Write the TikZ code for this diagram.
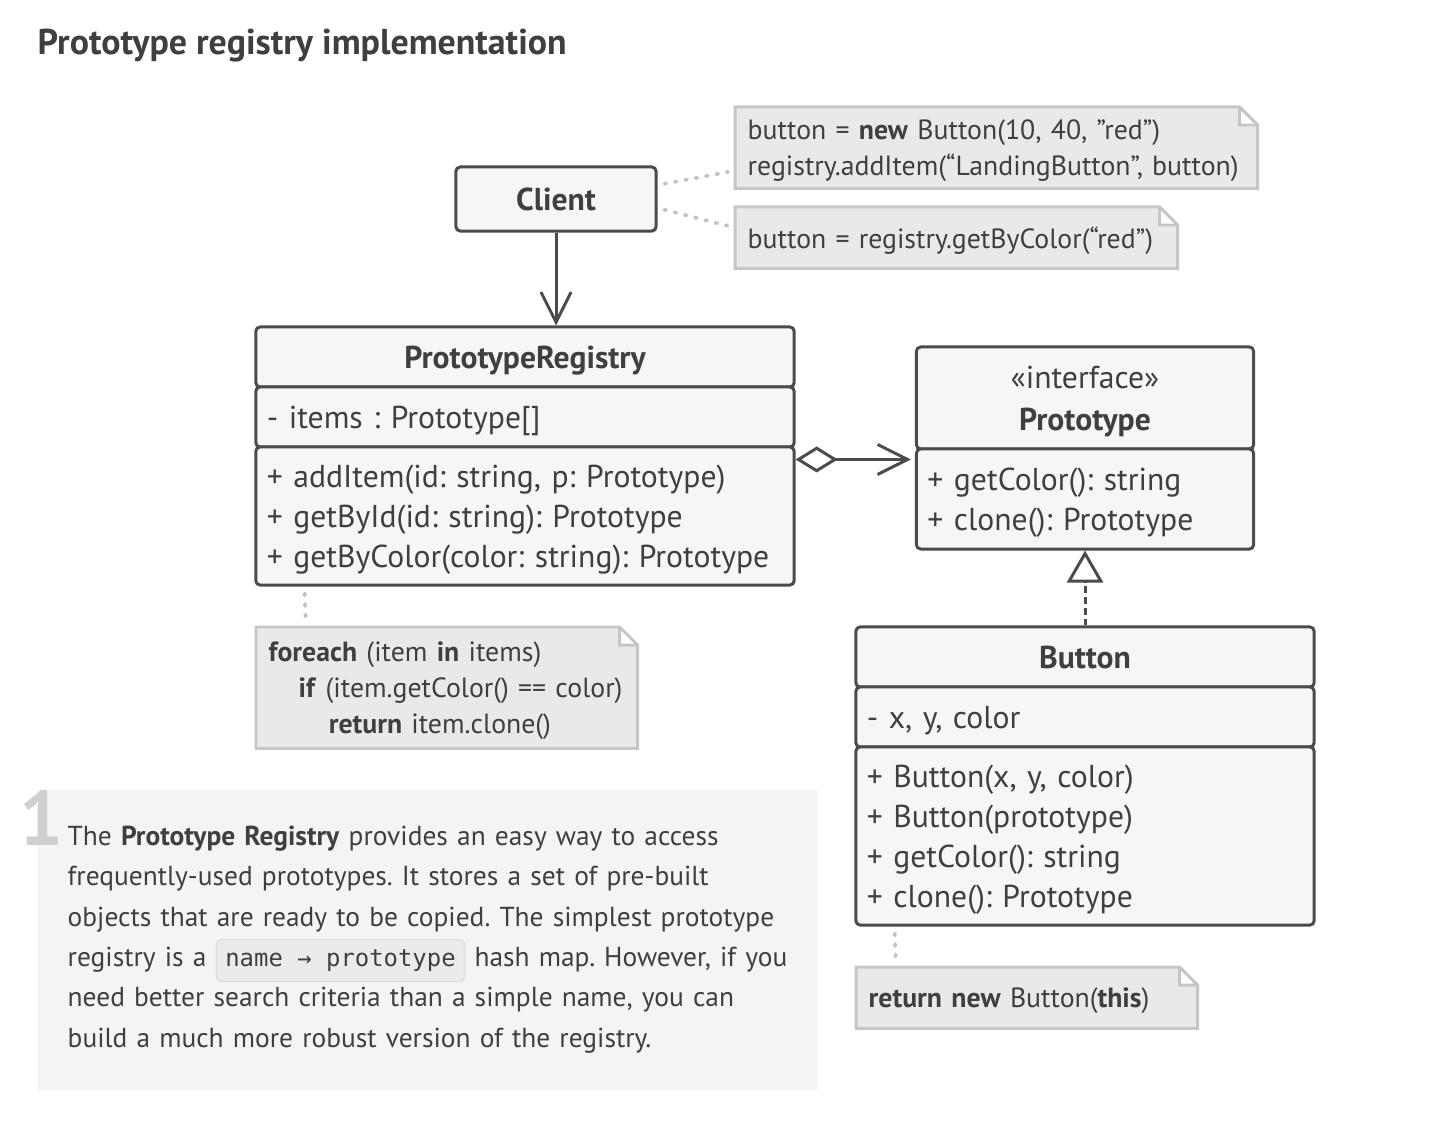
\documentclass[tikz,border=0pt]{standalone}
\usepackage{fontspec}
\setmainfont{PT Sans}
\newfontfamily\codefont{DejaVu Sans Mono}
\usetikzlibrary{arrows.meta,backgrounds}
\frenchspacing

\definecolor{linec}{HTML}{4B4B4B}
\definecolor{boxc}{HTML}{F6F6F6}
\definecolor{textc}{HTML}{3F3F3F}
\definecolor{notefill}{HTML}{E9E9E9}
\definecolor{noteline}{HTML}{C6C6C6}
\definecolor{dotc}{HTML}{C2C2C2}
\definecolor{panelc}{HTML}{F4F4F4}
\definecolor{numc}{HTML}{CFCFCF}
\definecolor{codec}{HTML}{EBEBEB}
\definecolor{codeline}{HTML}{DDDDDD}

\tikzset{
  box/.style={draw=linec, fill=boxc, line width=0.85pt, rounded corners=1.2pt, inner sep=0pt, text=textc, text depth=0pt},
  head/.style={box, font=\bfseries\fontsize{9}{12}\selectfont},
  body/.style={box, font=\fontsize{9}{11.4}\selectfont, align=left, inner xsep=0.11cm},
  note/.style={anchor=north west, inner xsep=0.12cm, inner ysep=0pt, text depth=0pt, align=left, text=textc, font=\fontsize{7.9}{10.25}\selectfont},
  noteshape/.style={fill=notefill, draw=noteline, line width=0.85pt},
  dotline/.style={draw=dotc, line width=1.1pt, line cap=round, dash pattern=on 0.5pt off 2.5pt, shorten <=2pt, shorten >=2pt},
  link/.style={draw=linec, line width=0.85pt},
}

\newcommand{\codebox}[1]{\tikz[baseline=(cb.base)]\node[fill=codec, draw=codeline, rounded corners=1.5pt, inner xsep=0.09cm, inner ysep=0.1cm, text=textc, font=\codefont\fontsize{6.8}{8}\selectfont] (cb) {#1};}

\begin{document}
\begin{tikzpicture}[x=0.01cm, y=-0.01cm]
\useasboundingbox (0,0) rectangle (1434,1134);

\node[anchor=base west, inner sep=0pt, font=\bfseries\fontsize{10.2}{12}\selectfont, text=textc] (title) at (37,55) {Prototype registry implementation};

\node[head, minimum width=2cm, minimum height=0.64cm] (client) at (556,199) {Client};

\node[note, text width=4.97cm, minimum height=0.8cm, text depth=10.25pt] (n1) at (735,107)
  {button = \textbf{new} Button(10, 40, "red")\\registry.addItem(“LandingButton”, button)};
\node[note, text width=4.17cm, minimum height=0.6cm] (n2) at (735,207)
  {button = registry.getByColor(“red”)};

\node[head, minimum width=5.38cm, minimum height=0.6cm] (reg) at (525,357) {PrototypeRegistry};
\node[body, text width=5.16cm, minimum height=0.6cm] (regattr) at (525,417) {- items : Prototype[]};
\node[body, text width=5.16cm, minimum height=1.38cm, text depth=22.8pt] (regops) at (525,516)
  {+ addItem(id: string, p: Prototype)\\+ getById(id: string): Prototype\\+ getByColor(color: string): Prototype};

\node[box, minimum width=3.37cm, minimum height=1.02cm, text width=3.15cm, align=center, font=\fontsize{9}{12}\selectfont, text depth=12pt] (proto) at (1085,398)
  {«interface»\\\textbf{Prototype}};
\node[body, text width=3.15cm, minimum height=1cm, text depth=11.4pt] (protoops) at (1085,499)
  {+ getColor(): string\\+ clone(): Prototype};

\node[head, minimum width=4.58cm, minimum height=0.6cm] (btn) at (1085,657) {Button};
\node[body, text width=4.36cm, minimum height=0.6cm] (btnattr) at (1085,717) {- x, y, color};
\node[body, text width=4.36cm, minimum height=1.78cm, text depth=34.2pt] (btnops) at (1085,836)
  {+ Button(x, y, color)\\+ Button(prototype)\\+ getColor(): string\\+ clone(): Prototype};

\node[note, text width=3.56cm, minimum height=1.2cm, text depth=20.5pt] (n3) at (256,627)
  {\textbf{foreach} (item \textbf{in} items)\\\hspace*{0.3cm}\textbf{if} (item.getColor() == color)\\\hspace*{0.6cm}\textbf{return} item.clone()};
\node[note, text width=3.16cm, minimum height=0.6cm] (n4) at (856,967)
  {\textbf{return new} Button(\textbf{this})};

\begin{pgfonlayer}{background}
\foreach \n in {n1,n2,n3,n4}
  \draw[noteshape] (\n.north west) -- ([xshift=-0.18cm]\n.north east) -- ([yshift=-0.18cm]\n.north east)
    -- (\n.south east) -- (\n.south west) -- cycle
    ([xshift=-0.18cm]\n.north east) |- ([yshift=-0.18cm]\n.north east);
\end{pgfonlayer}

\draw[dotline] ([yshift=0.14cm]client.east) -- ([yshift=-0.23cm]n1.west);
\draw[dotline] ([yshift=-0.09cm]client.east) -- ([yshift=0.1cm]n2.west);
\draw[link, -{Straight Barb[length=0.3cm, width=0.3cm]}] (client.south) -- (client.south |- reg.north);

\coordinate (aggst) at ([yshift=-0.14cm]regops.north east);
\draw[link, {Diamond[open, length=0.42cm, width=0.26cm]}-{Straight Barb[length=0.3cm, width=0.3cm]}, shorten >=0.04cm]
  (aggst) -- (aggst -| protoops.west);
\draw[link, dash pattern=on 1.9pt off 1.2pt, -{Triangle[open, length=0.32cm, width=0.36cm]}] (btn.north) -- (protoops.south);

\draw[dotline] ([xshift=0.5cm]regops.south west) -- ([xshift=0.5cm]n3.north west);
\draw[dotline] ([xshift=0.4cm]btnops.south west) -- ([xshift=0.4cm]n4.north west);

\node[fill=panelc, anchor=north west, minimum width=7.79cm, minimum height=3cm, inner sep=0pt] (panel) at (37,789) {};
\node[anchor=base west, inner sep=0pt, font=\bfseries\fontsize{22}{22}\selectfont, text=numc] (num) at (19,845) {1};
\node[anchor=north west, inner sep=0pt, text width=7.4cm, align=left, text=textc, font=\fontsize{7.8}{11.5}\selectfont] (desc) at (67,825)
  {The \textbf{Prototype Registry} provides an easy way to access\\
   frequently-used prototypes. It stores a set of pre-built\\
   objects that are ready to be copied. The simplest prototype\\
   registry is a \codebox{name → prototype} hash map. However, if you\\
   need better search criteria than a simple name, you can\\
   build a much more robust version of the registry.};
\end{tikzpicture}
\end{document}
